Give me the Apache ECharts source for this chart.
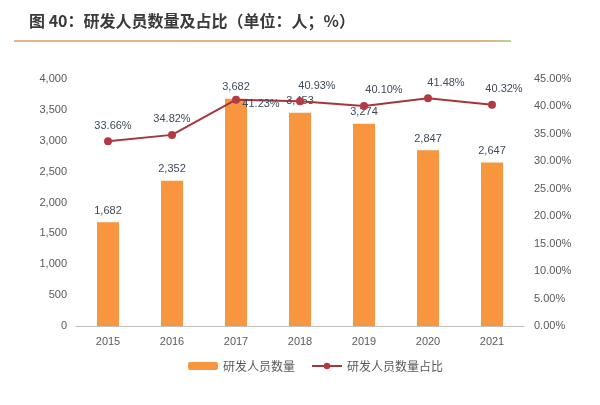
<!DOCTYPE html>
<html><head><meta charset="utf-8">
<script src="https://cdn.jsdelivr.net/npm/echarts@6/dist/echarts.min.js"></script>
<style>html,body{margin:0;padding:0;background:#fff}#c{width:600px;height:405px}</style>
</head><body><div id="c"></div>
<script>
const categories = ['2015','2016','2017','2018','2019','2020','2021'];
const staffCount = [1682, 2352, 3682, 3453, 3274, 2847, 2647];
const staffShare = [33.66, 34.82, 41.23, 40.93, 40.10, 41.48, 40.32];
const leftTicks = {min: 0, max: 4000, interval: 500};
const rightTicks = {min: 0, max: 45, interval: 5};

const font = '"Noto Sans CJK SC", "Microsoft YaHei", sans-serif';
const chart = echarts.init(document.getElementById('c'));
const lineLabelOffsets = [[5,0],[0,0],[25,20],[17,0],[20,0],[18,0],[12,0]];
chart.setOption({
  animation: false,
  textStyle: {fontFamily: font},
  title: {
    text: '图 40：研发人员数量及占比（单位：人；%）',
    left: 24, top: 8,
    textStyle: {fontSize: 16, fontWeight: 'bold', color: '#3a3a3a', fontFamily: font}
  },
  graphic: [{
    type: 'rect', shape: {x: 14, y: 40, width: 497, height: 2},
    style: {fill: new echarts.graphic.LinearGradient(0,0,1,0,[
      {offset:0,color:'#e2b58e'},{offset:0.95,color:'#dcb48c'},{offset:1,color:'#b7d3a0'}])}
  }],
  grid: {left: 76, right: 76, top: 79, bottom: 79},
  legend: {
    bottom: 28, left: 183, itemGap: 16, itemWidth: 30, itemHeight: 8,
    textStyle: {fontSize: 12, color: '#595959', fontFamily: font},
    data: [{name: '研发人员数量'}, {name: '研发人员数量占比'}]
  },
  xAxis: {
    type: 'category', data: categories,
    axisLine: {lineStyle: {color: '#bfbfbf'}},
    axisTick: {show: false},
    axisLabel: {fontSize: 11, color: '#595959', margin: 10, fontFamily: 'Liberation Sans, Arial, sans-serif'}
  },
  yAxis: [{
    type: 'value', min: leftTicks.min, max: leftTicks.max, interval: leftTicks.interval,
    splitLine: {show: false}, axisLine: {show: false}, axisTick: {show: false},
    axisLabel: {fontSize: 11, color: '#595959', margin: 9, fontFamily: 'Liberation Sans, Arial, sans-serif',
      formatter: v => v.toLocaleString('en-US')}
  }, {
    type: 'value', min: rightTicks.min, max: rightTicks.max, interval: rightTicks.interval,
    splitLine: {show: false}, axisLine: {show: false}, axisTick: {show: false},
    axisLabel: {fontSize: 11, color: '#595959', margin: 10, fontFamily: 'Liberation Sans, Arial, sans-serif',
      formatter: v => v.toFixed(2) + '%'}
  }],
  series: [{
    name: '研发人员数量', type: 'bar', data: staffCount, barWidth: 22,
    itemStyle: {color: '#f7963e'},
    label: {show: true, position: 'top', distance: 6, fontSize: 11, color: '#404a5a',
      fontFamily: 'Liberation Sans, Arial, sans-serif', formatter: p => p.value.toLocaleString('en-US')}
  }, {
    name: '研发人员数量占比', type: 'line', yAxisIndex: 1,
    data: staffShare.map((v, i) => ({value: v, label: {offset: lineLabelOffsets[i]}})),
    symbol: 'circle', symbolSize: 8,
    lineStyle: {color: '#a3373f', width: 2},
    itemStyle: {color: '#b33a44'},
    label: {show: true, position: 'top', distance: 6, fontSize: 11, color: '#404a5a',
      fontFamily: 'Liberation Sans, Arial, sans-serif', formatter: p => p.value.toFixed(2) + '%'}
  }]
});
</script></body></html>
